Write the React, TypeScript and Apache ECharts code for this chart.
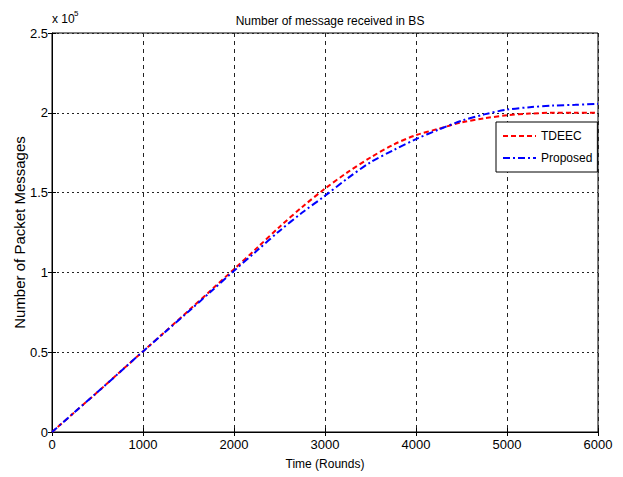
import React, { useEffect, useRef } from "react";
import * as echarts from "echarts";

const rounds = [0, 250, 500, 750, 1000, 1250, 1500, 1750, 2000, 2250, 2500, 2750, 3000, 3250, 3500, 3750, 4000, 4250, 4500, 4750, 5000, 5250, 5500, 5750, 6000];
const tdeec = [0, 12500, 25000, 37800, 50500, 63200, 76000, 89000, 102000, 115200, 128500, 141000, 152500, 162800, 172000, 180000, 186000, 190000, 194000, 196500, 198500, 199500, 200000, 200000, 200000];
const proposed = [0, 12500, 25000, 37700, 50500, 63000, 75500, 88200, 101000, 113500, 126000, 137500, 148000, 159000, 169000, 176500, 183500, 189500, 195000, 199000, 202000, 203500, 204500, 205000, 205600];
const seriesNames = ["TDEEC", "Proposed"];

const narrow = '"Liberation Sans Narrow", "Liberation Sans", Arial, sans-serif';
const sans = '"Liberation Sans", Arial, sans-serif';

export default function App() {
  const ref = useRef<HTMLDivElement>(null);
  useEffect(() => {
    if (!ref.current) return;
    const chart = echarts.init(ref.current, null, { renderer: "svg" });
    const toPairs = (arr: number[]) => rounds.map((r, i) => [r, arr[i]]);
    const hiddenAxisCommon = {
      axisLine: { show: false },
      axisTick: { show: true, inside: true, length: 4, lineStyle: { color: "#000" } },
      axisLabel: { show: false },
      splitLine: { show: false },
    };
    chart.setOption({
      animation: false,
      backgroundColor: "#fff",
      title: {
        text: "Number of message received in BS",
        left: 325,
        top: 10,
        textAlign: "center",
        textStyle: { fontFamily: narrow, fontSize: 12, fontWeight: "normal", color: "#000" },
      },
      graphic: [
        { type: "text", left: 52, top: 13, style: { text: "x 10", font: `12px ${narrow}`, fill: "#000" } },
        { type: "text", left: 74, top: 9, style: { text: "5", font: `8px ${narrow}`, fill: "#000" } },
      ],
      legend: {
        data: seriesNames,
        orient: "vertical",
        left: 496,
        top: 122,
        backgroundColor: "#fff",
        borderColor: "#000",
        borderWidth: 1,
        borderRadius: 0,
        padding: [8, 5, 8, 6],
        itemGap: 10,
        itemWidth: 33,
        itemHeight: 10,
        itemStyle: { opacity: 0 },
        textStyle: { fontFamily: narrow, fontSize: 12, color: "#000" },
      },
      grid: {
        left: 52,
        right: 25,
        top: 33,
        bottom: 45,
        show: true,
        borderColor: "#000",
        borderWidth: 1,
        containLabel: false,
        outerBoundsMode: "none",
      },
      xAxis: [
        {
          type: "value",
          min: 0,
          max: 6000,
          interval: 1000,
          name: "Time (Rounds)",
          nameLocation: "middle",
          nameGap: 26,
          nameTextStyle: { fontFamily: narrow, fontSize: 12, color: "#000" },
          axisLine: { lineStyle: { color: "#000", width: 1 } },
          axisTick: { inside: true, length: 4, lineStyle: { color: "#000" } },
          axisLabel: { fontFamily: narrow, fontSize: 13, color: "#000", margin: 6, formatter: (v: number) => String(v) },
          splitLine: { show: true, lineStyle: { color: "#222", type: [4, 4], width: 1 } },
        },
        { type: "value", position: "top", min: 0, max: 6000, interval: 1000, ...hiddenAxisCommon },
      ],
      yAxis: [
        {
          type: "value",
          min: 0,
          max: 250000,
          interval: 50000,
          name: "Number of Packet Messages",
          nameLocation: "middle",
          nameGap: 25,
          nameMoveOverlap: false,
          nameTextStyle: { fontFamily: sans, fontSize: 15, color: "#000" },
          axisLine: { lineStyle: { color: "#000", width: 1 } },
          axisTick: { inside: true, length: 4, lineStyle: { color: "#000" } },
          axisLabel: {
            fontFamily: narrow,
            fontSize: 13,
            color: "#000",
            margin: 4,
            formatter: (v: number) => String(v / 100000),
          },
          splitLine: { show: true, lineStyle: { color: "#222", type: [2, 3], width: 1 } },
        },
        { type: "value", position: "right", min: 0, max: 250000, interval: 50000, ...hiddenAxisCommon },
      ],
      series: [
        {
          name: seriesNames[0],
          type: "line",
          data: toPairs(tdeec),
          smooth: 0.3,
          showSymbol: false,
          symbol: "none",
          color: "#ff0000",
          lineStyle: { color: "#ff0000", width: 2, type: [5, 3] },
          z: 3,
        },
        {
          name: seriesNames[1],
          type: "line",
          data: toPairs(proposed),
          smooth: 0.3,
          showSymbol: false,
          symbol: "none",
          color: "#0000ff",
          lineStyle: { color: "#0000ff", width: 2, type: [7, 3, 2, 3] },
          z: 4,
        },
      ],
    });
    return () => chart.dispose();
  }, []);
  return <div ref={ref} style={{ width: 623, height: 477, position: "absolute", left: 0, top: 0 }} />;
}
